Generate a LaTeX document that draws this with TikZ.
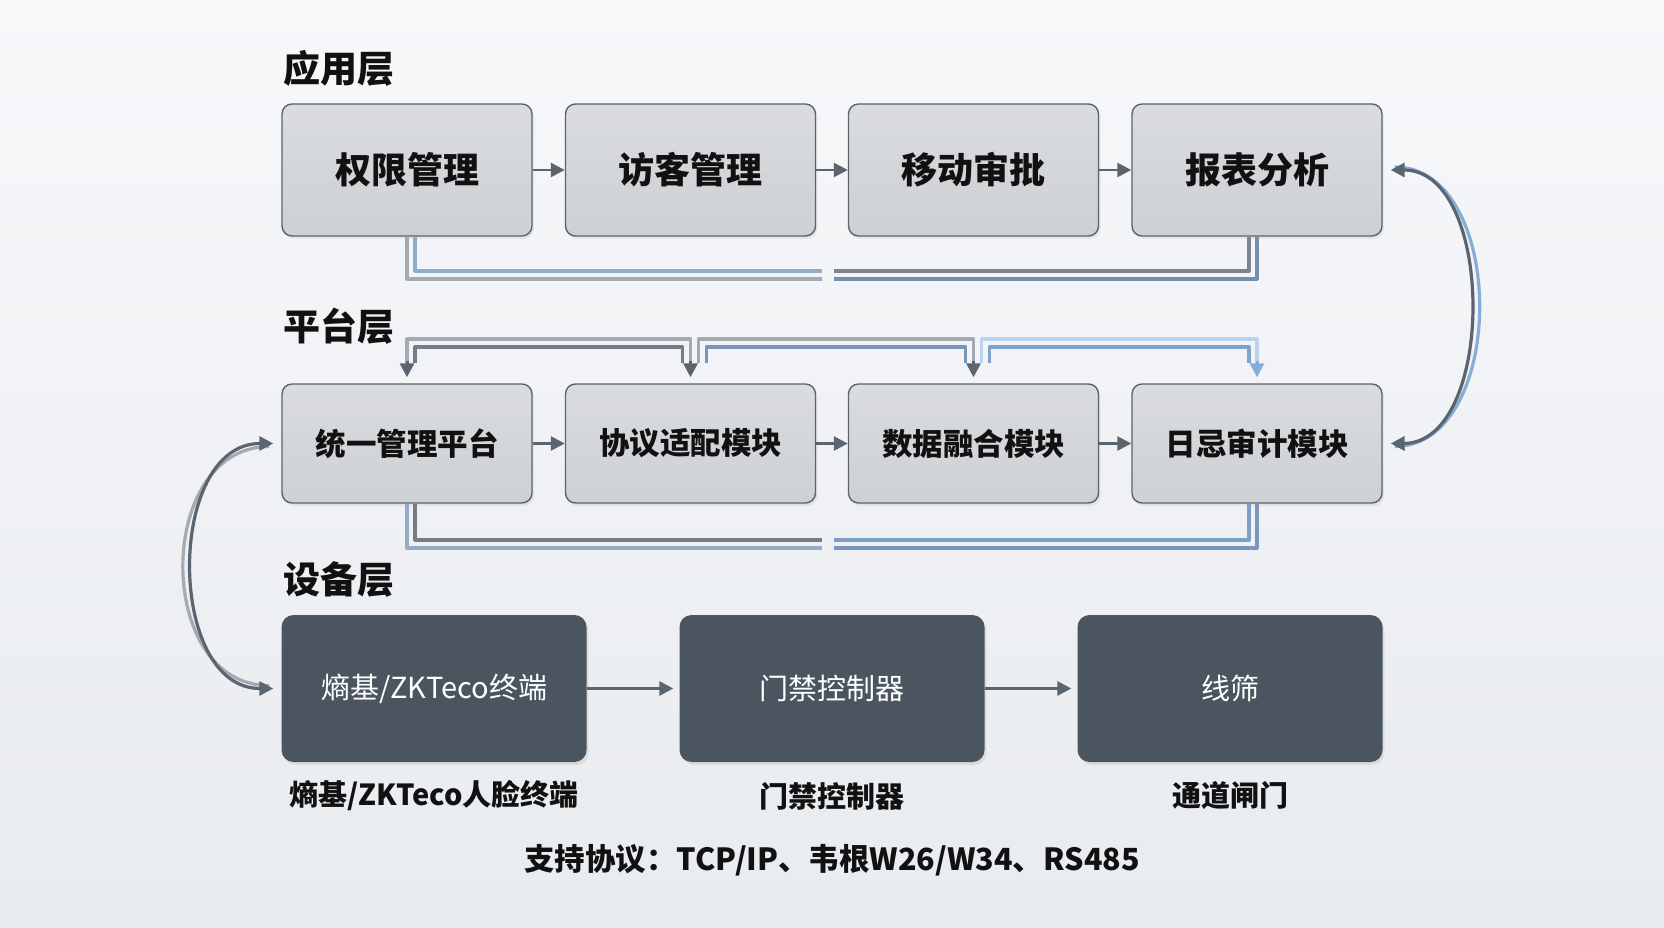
\documentclass[tikz,border=0pt]{standalone}
\usepackage{fontspec}
\setmainfont{Noto Sans CJK SC}
\usetikzlibrary{arrows.meta,shadows}
\definecolor{bgA}{HTML}{F7F8FA}
\definecolor{bgB}{HTML}{E8EBEF}
\definecolor{boxtop}{HTML}{DADCDF}
\definecolor{boxbot}{HTML}{CDD0D4}
\definecolor{boxline}{HTML}{5C636B}
\definecolor{darkbox}{HTML}{4B5560}
\definecolor{arr}{HTML}{5B6570}
\definecolor{blu}{HTML}{85ADD8}
\definecolor{lgray}{HTML}{A3AAB2}
\definecolor{txt}{HTML}{111111}
\begin{document}
\begin{tikzpicture}[x=1pt,y=-1pt,
  lightbox/.style={draw=boxline, line width=1.4pt, rounded corners=10pt,
    top color=boxtop, bottom color=boxbot, minimum width=250pt,
    drop shadow={shadow xshift=2pt,shadow yshift=-3pt,opacity=0.12},
    text=txt, font=\bfseries},
  appbox/.style={lightbox, minimum height=132pt, font=\bfseries\fontsize{36}{40}\selectfont},
  platbox/.style={lightbox, minimum height=119pt, font=\bfseries\fontsize{30.5}{36}\selectfont},
  devbox/.style={fill=darkbox, rounded corners=12pt, minimum width=305pt, minimum height=147pt,
    drop shadow={shadow xshift=2pt,shadow yshift=-3pt,opacity=0.15},
    text=white, font=\fontsize{29}{34}\selectfont},
  layer/.style={anchor=west, text=txt, font=\bfseries\fontsize{37}{42}\selectfont},
  caption/.style={text=txt, font=\bfseries\fontsize{29}{34}\selectfont},
  tip/.style={-{Triangle[length=14pt,width=14pt]}},
  tips/.style={{Triangle[length=14pt,width=14pt]}-{Triangle[length=14pt,width=14pt]}},
  ln/.style={line width=3.2pt, line join=round},
]
\useasboundingbox (0,0) rectangle (1664,928);
\shade[top color=bgA, bottom color=bgB] (0,0) rectangle (1664,928);

% layer labels
\node[layer] (L1) at (280,68) {应用层};
\node[layer] (L2) at (280,326) {平台层};
\node[layer] (L3) at (280,580) {设备层};

% application layer
\node[appbox] (a1) at (407,170) {权限管理};
\node[appbox] (a2) at (690.5,170) {访客管理};
\node[appbox] (a3) at (973.5,170) {移动审批};
\node[appbox] (a4) at (1257,170) {报表分析};

% platform layer
\node[platbox] (p1) at (407,443.5) {统一管理平台};
\node[platbox] (p2) at (690.5,443.5) {协议适配模块};
\node[platbox] (p3) at (973.5,443.5) {数据融合模块};
\node[platbox] (p4) at (1257,443.5) {日忌审计模块};

% device layer
\node[devbox] (d1) at (434,688.5) {熵基/ZKTeco终端};
\node[devbox] (d2) at (832,688.5) {门禁控制器};
\node[devbox] (d3) at (1230,688.5) {线筛};

\node[caption] (c1) at (434,796) {熵基/ZKTeco人脸终端};
\node[caption] (c2) at (832,796) {门禁控制器};
\node[caption] (c3) at (1230,796) {通道闸门};
\node[caption, font=\bfseries\fontsize{30.5}{36}\selectfont] (proto) at (832,860) {支持协议：TCP/IP、韦根W26/W34、RS485};

% horizontal flow arrows
\foreach \s/\t in {a1/a2,a2/a3,a3/a4,p1/p2,p2/p3,p3/p4}
  \draw[tip, arr, line width=2.6pt] (\s.east) -- (\t.west);
\draw[tip, arr, line width=3pt] (d1.east) -- ([xshift=-6pt]d2.west);
\draw[tip, arr, line width=3pt] (d2.east) -- ([xshift=-6pt]d3.west);

% feedback under application layer
\coordinate (g1l) at (822,271); \coordinate (g1r) at (834,271);
\coordinate (g2l) at (822,279); \coordinate (g2r) at (834,279);
\draw[ln, blu!70!lgray] ([xshift=8pt]a1.south) |- (g1l);
\draw[ln, arr!80] (g1r) -| ([xshift=-8pt]a4.south);
\draw[ln, lgray] (a1.south) |- (g2l);
\draw[ln, blu!60!arr] (g2r) -| (a4.south);

% feedback under platform layer
\coordinate (h1l) at (822,540); \coordinate (h1r) at (834,540);
\coordinate (h2l) at (822,548); \coordinate (h2r) at (834,548);
\draw[ln, arr!85] ([xshift=8pt]p1.south) |- (h1l);
\draw[ln, blu!80!arr] (h1r) -| ([xshift=-8pt]p4.south);
\draw[ln, blu!50!lgray] (p1.south) |- (h2l);
\draw[ln, blu!70!arr] (h2r) -| (p4.south);

% distribution bus over platform layer
\draw[ln, lgray] ([yshift=20pt]p1.north) |- (690.5,339) -- ([yshift=20pt]p2.north);
\draw[ln, arr!85] ([xshift=8pt,yshift=20pt]p1.north) |- (682.5,347) -- ([xshift=-8pt,yshift=20pt]p2.north);
\draw[ln, lgray] ([xshift=8pt,yshift=20pt]p2.north) |- (973.5,339) -- ([yshift=20pt]p3.north);
\draw[ln, blu!70!arr] ([xshift=16pt,yshift=20pt]p2.north) |- (965.5,347) -- ([xshift=-8pt,yshift=20pt]p3.north);
\draw[ln, blu!55!white] ([xshift=8pt,yshift=20pt]p3.north) |- (1257,339) -- ([yshift=20pt]p4.north);
\draw[ln, blu!85!arr] ([xshift=16pt,yshift=20pt]p3.north) |- (1249,347) -- ([xshift=-8pt,yshift=20pt]p4.north);
\foreach \b/\c in {p1/arr,p2/arr,p3/arr,p4/blu}
  \draw[tip, \c, line width=3pt] ([yshift=22pt]\b.north) -- ([yshift=6pt]\b.north);

% right loop: application <-> platform
\draw[ln, blu] ([xshift=12pt,yshift=3pt]a4.east) .. controls (1508,167) and (1508,446) .. ([xshift=12pt,yshift=-3pt]p4.east);
\draw[tips, ln, arr] ([xshift=8pt]a4.east) .. controls (1496,170) and (1496,443) .. ([xshift=8pt]p4.east);

% left loop: platform <-> device
\draw[ln, lgray] ([xshift=-12pt,yshift=-3pt]p1.west) .. controls (154,447) and (154,686) .. ([xshift=-12pt,yshift=3pt]d1.west);
\draw[tips, ln, arr] ([xshift=-8pt]p1.west) .. controls (166,443.5) and (166,688.5) .. ([xshift=-8pt]d1.west);
\end{tikzpicture}
\end{document}
